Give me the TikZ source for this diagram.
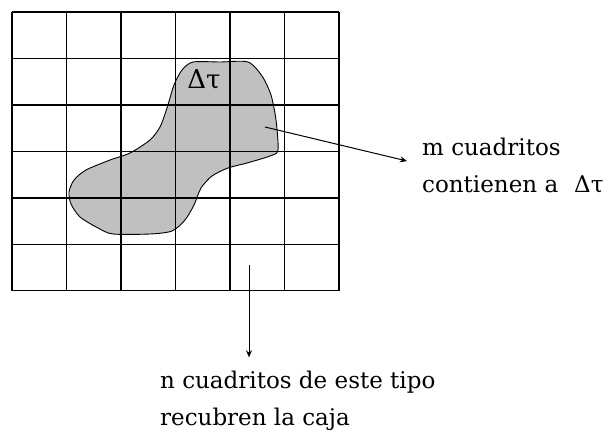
\documentclass[tikz,border=0pt]{standalone}
\usepackage{fontspec}
\setmainfont{DejaVu Serif}
\usetikzlibrary{arrows.meta}
\definecolor{blobgray}{RGB}{192,192,192}
\begin{document}
\begin{tikzpicture}[x=1pt,y=-1pt,
  gridline/.style={line width=1.5pt, black},
  outline/.style={line width=0.9pt, black, fill=blobgray},
  arr/.style={line width=1pt, -{Stealth[length=7pt,width=6pt]}},
  lab/.style={font=\fontsize{23}{37}\selectfont, align=left, inner sep=0pt, anchor=base west},
]
\useasboundingbox[fill=white] (0,0) rectangle (609,433);
% blob
\draw[outline] plot[smooth cycle, tension=0.45] coordinates {
 (193,62) (220,62) (248,62) (262,76) (271,95) (276,120) (278,150) (270,156)
 (247,163) (228,168) (212,176) (201,188) (194,205) (185,220) (172,231)
 (150,234) (113,234) (98,228) (80,217) (71,204) (69,192) (74,180) (86,170)
 (110,160) (130,153) (150,140) (160,127) (167,108) (174,85) (182,70)};
% grid
\foreach \i in {0,...,6} {
  \draw[gridline] ({12+54.5*\i},12) -- ({12+54.5*\i},290.7);
  \draw[gridline] (12,{12+46.45*\i}) -- (339,{12+46.45*\i});
}
\node[font=\fontsize{26}{30}\selectfont, inner sep=0pt] (dt) at (204,79) {Δτ};
% labels (base anchor = baseline of the last line)
\node[lab] (mlab) at (422,192) {m cuadritos\\contienen a\hspace{16pt}Δτ};
\node[lab] (nlab) at (160,425) {n cuadritos de este tipo\\recubren la caja};
% connectors
\coordinate (mstart) at (265,127);
\coordinate (mtip) at (407,161);
\coordinate (nstart) at (249,265);
\draw[arr] (mstart) -- (mtip);
\draw[arr, shorten >=13pt] (nstart) -- (nstart |- nlab.north);
\end{tikzpicture}
\end{document}
